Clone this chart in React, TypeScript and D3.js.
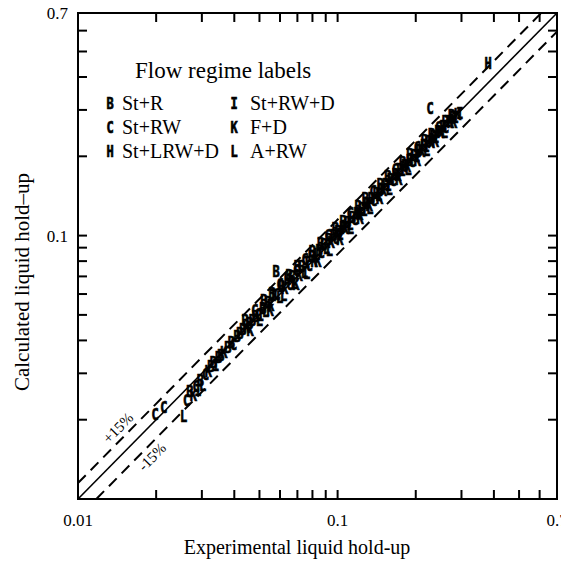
import React from 'react';
import * as d3 from 'd3';

// experimental vs calculated hold-up, letter = flow regime
const points: [number, number, string][] = [
	[0.0198, 0.021, 'C'], [0.0214, 0.0222, 'C'], [0.0255, 0.0205, 'L'], [0.0262, 0.0236, 'C'],
	[0.027, 0.0255, 'B'], [0.0278, 0.0248, 'K'], [0.0285, 0.0268, 'C'], [0.029, 0.0258, 'I'],
	[0.0296, 0.0282, 'B'], [0.0302, 0.027, 'L'], [0.031, 0.0296, 'C'], [0.0318, 0.0305, 'K'],
	[0.0325, 0.0318, 'B'], [0.0332, 0.033, 'B'], [0.034, 0.0322, 'I'], [0.0348, 0.0345, 'B'],
	[0.0355, 0.0352, 'B'], [0.0365, 0.036, 'K'], [0.0378, 0.0375, 'B'], [0.039, 0.0392, 'B'],
	[0.0398, 0.0385, 'C'], [0.041, 0.0415, 'B'], [0.042, 0.0425, 'B'], [0.0432, 0.044, 'B'],
	[0.0445, 0.0448, 'K'], [0.0458, 0.0462, 'B'], [0.047, 0.0478, 'B'], [0.0482, 0.0492, 'B'],
	[0.0495, 0.05, 'C'], [0.0505, 0.0498, 'I'], [0.0515, 0.053, 'B'], [0.0528, 0.0515, 'L'],
	[0.054, 0.0555, 'B'], [0.0552, 0.0545, 'K'], [0.0565, 0.059, 'I'], [0.058, 0.073, 'B'],
	[0.0585, 0.06, 'C'], [0.0598, 0.058, 'L'], [0.061, 0.064, 'B'], [0.0625, 0.063, 'K'],
	[0.064, 0.068, 'H'], [0.0655, 0.065, 'C'], [0.0668, 0.07, 'B'], [0.068, 0.066, 'L'],
	[0.0695, 0.074, 'C'], [0.071, 0.0705, 'K'], [0.0728, 0.0765, 'B'], [0.0745, 0.0725, 'L'],
	[0.076, 0.079, 'I'], [0.0778, 0.077, 'C'], [0.0795, 0.083, 'B'], [0.0812, 0.08, 'K'],
	[0.083, 0.0845, 'L'], [0.0848, 0.088, 'B'], [0.0866, 0.086, 'C'], [0.0885, 0.0925, 'B'],
	[0.0905, 0.0895, 'L'], [0.0925, 0.0965, 'B'], [0.0945, 0.094, 'K'], [0.0965, 0.1, 'B'],
	[0.0985, 0.0975, 'C'], [0.1005, 0.104, 'B'], [0.1025, 0.101, 'I'], [0.1048, 0.1075, 'B'],
	[0.107, 0.106, 'K'], [0.1092, 0.112, 'B'], [0.1115, 0.11, 'L'], [0.114, 0.117, 'B'],
	[0.1165, 0.115, 'C'], [0.119, 0.1215, 'B'], [0.1215, 0.12, 'K'], [0.124, 0.1265, 'B'],
	[0.1268, 0.125, 'I'], [0.1295, 0.132, 'B'], [0.1322, 0.1305, 'K'], [0.135, 0.138, 'B'],
	[0.138, 0.136, 'C'], [0.141, 0.144, 'B'], [0.144, 0.142, 'L'], [0.147, 0.15, 'B'],
	[0.15, 0.148, 'K'], [0.1535, 0.1565, 'B'], [0.1568, 0.155, 'I'], [0.16, 0.163, 'B'],
	[0.1635, 0.1615, 'C'], [0.167, 0.17, 'B'], [0.1705, 0.169, 'K'], [0.174, 0.1775, 'B'],
	[0.1778, 0.176, 'I'], [0.1815, 0.185, 'B'], [0.1855, 0.1835, 'K'], [0.1895, 0.193, 'B'],
	[0.1935, 0.1915, 'C'], [0.1975, 0.201, 'B'], [0.2018, 0.2, 'I'], [0.206, 0.21, 'B'],
	[0.2105, 0.2085, 'K'], [0.215, 0.219, 'B'], [0.2195, 0.2175, 'I'], [0.224, 0.2285, 'B'],
	[0.227, 0.305, 'C'], [0.229, 0.2265, 'K'], [0.234, 0.238, 'B'], [0.239, 0.2365, 'I'],
	[0.244, 0.248, 'B'], [0.2495, 0.247, 'K'], [0.255, 0.259, 'B'], [0.2605, 0.258, 'C'],
	[0.266, 0.27, 'I'], [0.272, 0.269, 'K'], [0.278, 0.281, 'B'], [0.284, 0.28, 'I'],
	[0.29, 0.289, 'K'], [0.296, 0.292, 'I'], [0.38, 0.452, 'H'],
	// upper edge of the band
	[0.044, 0.0475, 'B'], [0.048, 0.052, 'C'], [0.052, 0.0565, 'B'], [0.056, 0.0605, 'B'],
	[0.06, 0.065, 'C'], [0.065, 0.0705, 'B'], [0.07, 0.0765, 'B'], [0.075, 0.081, 'C'],
	[0.08, 0.087, 'B'], [0.086, 0.093, 'B'], [0.092, 0.1, 'C'], [0.098, 0.106, 'B'],
	[0.105, 0.113, 'B'], [0.112, 0.121, 'C'], [0.12, 0.129, 'B'], [0.128, 0.138, 'B'],
	[0.137, 0.147, 'C'], [0.146, 0.157, 'B'], [0.156, 0.167, 'B'], [0.167, 0.178, 'C'],
	[0.178, 0.19, 'B'], [0.19, 0.203, 'B'], [0.203, 0.216, 'C'], [0.216, 0.229, 'B'],
	[0.23, 0.243, 'B'], [0.245, 0.258, 'C'], [0.26, 0.272, 'B'], [0.275, 0.287, 'B'],
	// lower edge of the band
	[0.046, 0.0438, 'K'], [0.05, 0.0476, 'L'], [0.055, 0.052, 'K'], [0.062, 0.059, 'L'],
	[0.069, 0.0655, 'K'], [0.076, 0.072, 'L'], [0.084, 0.08, 'K'], [0.093, 0.088, 'L'],
	[0.102, 0.097, 'K'], [0.112, 0.106, 'L'], [0.122, 0.116, 'K'], [0.133, 0.127, 'L'],
	[0.145, 0.138, 'K'], [0.158, 0.15, 'L'], [0.172, 0.164, 'K'], [0.187, 0.178, 'L'],
	[0.203, 0.193, 'K'], [0.22, 0.21, 'L'], [0.238, 0.227, 'K'], [0.258, 0.246, 'L'],
	[0.28, 0.268, 'K'],
];

const legendCol1 = [['B', 'St+R'], ['C', 'St+RW'], ['H', 'St+LRW+D']];
const legendCol2 = [['I', 'St+RW+D'], ['K', 'F+D'], ['L', 'A+RW']];

const tickValues = [0.02, 0.03, 0.04, 0.05, 0.06, 0.07, 0.08, 0.09, 0.1, 0.2, 0.3, 0.4, 0.5, 0.6];
const tickLabels = [0.01, 0.1, 0.7];
const bands = [1.15, 0.85];

const serif = "'Liberation Serif', 'Times New Roman', serif";
const markFont = "'DejaVu Sans Mono', monospace";

// narrow bold letter used as a plot symbol
const Mark = ({ x, y, c }: { x: number; y: number; c: string }) => (
	<text
		transform={`translate(${x},${y}) scale(0.8,1)`}
		textAnchor='middle'
		dominantBaseline='central'
		fontFamily={markFont}
		fontWeight='bold'
		fontSize={15}
		stroke='black'
		strokeWidth={0.7}
	>
		{c}
	</text>
);

const App = () => {
	const svgWidth = 561;
	const svgHeight = 561;
	const margin = { top: 13, left: 78 },
		width = 479,
		height = 486;

	const xScale = d3.scaleLog().domain([0.01, 0.7]).range([0, width]);
	const yScale = d3.scaleLog().domain([0.01, 0.7]).range([height, 0]);
	const tickLen = 9;

	const diag = d3
		.line<[number, number]>()
		.x((d) => xScale(d[0]))
		.y((d) => yScale(d[1]));

	const bandLine = (k: number): [number, number][] =>
		k > 1
			? [[0.01, 0.01 * k], [0.7 / k, 0.7]]
			: [[0.01 / k, 0.01], [0.7, 0.7 * k]];

	const angle = (-Math.atan2(height, width) * 180) / Math.PI;

	return (
		<svg width={svgWidth} height={svgHeight} style={{ position: 'absolute', left: 0, top: 0 }}>
			<rect width={svgWidth} height={svgHeight} fill='white' />
			<g transform={`translate(${margin.left},${margin.top})`}>
				{/* frame */}
				<rect x={0} y={0} width={width} height={height} fill='none' stroke='black' strokeWidth={2} />

				{/* ticks on all four sides, inward */}
				{tickValues.map((v) => (
					<g key={'t' + v} stroke='black' strokeWidth={2}>
						<line x1={xScale(v)} x2={xScale(v)} y1={height} y2={height - tickLen} />
						<line x1={xScale(v)} x2={xScale(v)} y1={0} y2={tickLen} />
						<line x1={0} x2={tickLen} y1={yScale(v)} y2={yScale(v)} />
						<line x1={width} x2={width - tickLen} y1={yScale(v)} y2={yScale(v)} />
					</g>
				))}

				{/* tick labels */}
				{tickLabels.map((v) => (
					<text
						key={'xl' + v}
						x={xScale(v)}
						y={height + 27}
						textAnchor='middle'
						fontFamily={serif}
						fontSize={17}
					>
						{v}
					</text>
				))}
				{[0.1, 0.7].map((v) => (
					<text
						key={'yl' + v}
						x={-10}
						y={yScale(v) + 6}
						textAnchor='end'
						fontFamily={serif}
						fontSize={17}
					>
						{v}
					</text>
				))}

				{/* parity line and +-15% lines */}
				<path d={diag([[0.01, 0.01], [0.7, 0.7]]) || ''} stroke='black' strokeWidth={1.6} fill='none' />
				{bands.map((k) => (
					<path
						key={'b' + k}
						d={diag(bandLine(k)) || ''}
						stroke='black'
						strokeWidth={2}
						strokeDasharray='11,7'
						fill='none'
					/>
				))}
				<text
					transform={`translate(${118 - margin.left},${428 - margin.top}) rotate(${angle})`}
					textAnchor='middle'
					dominantBaseline='central'
					fontFamily={serif}
					fontSize={15}
				>
					+15%
				</text>
				<text
					transform={`translate(${152 - margin.left},${457 - margin.top}) rotate(${angle})`}
					textAnchor='middle'
					dominantBaseline='central'
					fontFamily={serif}
					fontSize={15}
				>
					-15%
				</text>

				{/* letter markers */}
				{points.map((d, i) => (
					<Mark key={'p' + i} x={xScale(d[0])} y={yScale(d[1])} c={d[2]} />
				))}
			</g>

			{/* legend */}
			<text x={135} y={78} fontFamily={serif} fontSize={23}>
				Flow regime labels
			</text>
			{legendCol1.map((d, i) => (
				<g key={'l1' + d[0]}>
					<Mark x={110} y={103 + i * 24} c={d[0]} />
					<text x={122} y={110 + i * 24} fontFamily={serif} fontSize={20}>
						{d[1]}
					</text>
				</g>
			))}
			{legendCol2.map((d, i) => (
				<g key={'l2' + d[0]}>
					<Mark x={234} y={103 + i * 24} c={d[0]} />
					<text x={250} y={110 + i * 24} fontFamily={serif} fontSize={20}>
						{d[1]}
					</text>
				</g>
			))}

			{/* axis titles */}
			<text x={297} y={554} textAnchor='middle' fontFamily={serif} fontSize={20}>
				Experimental liquid hold-up
			</text>
			<text
				transform={`translate(29,282) rotate(-90)`}
				textAnchor='middle'
				fontFamily={serif}
				fontSize={21}
			>
				Calculated liquid hold–up
			</text>
		</svg>
	);
};

export default App;
